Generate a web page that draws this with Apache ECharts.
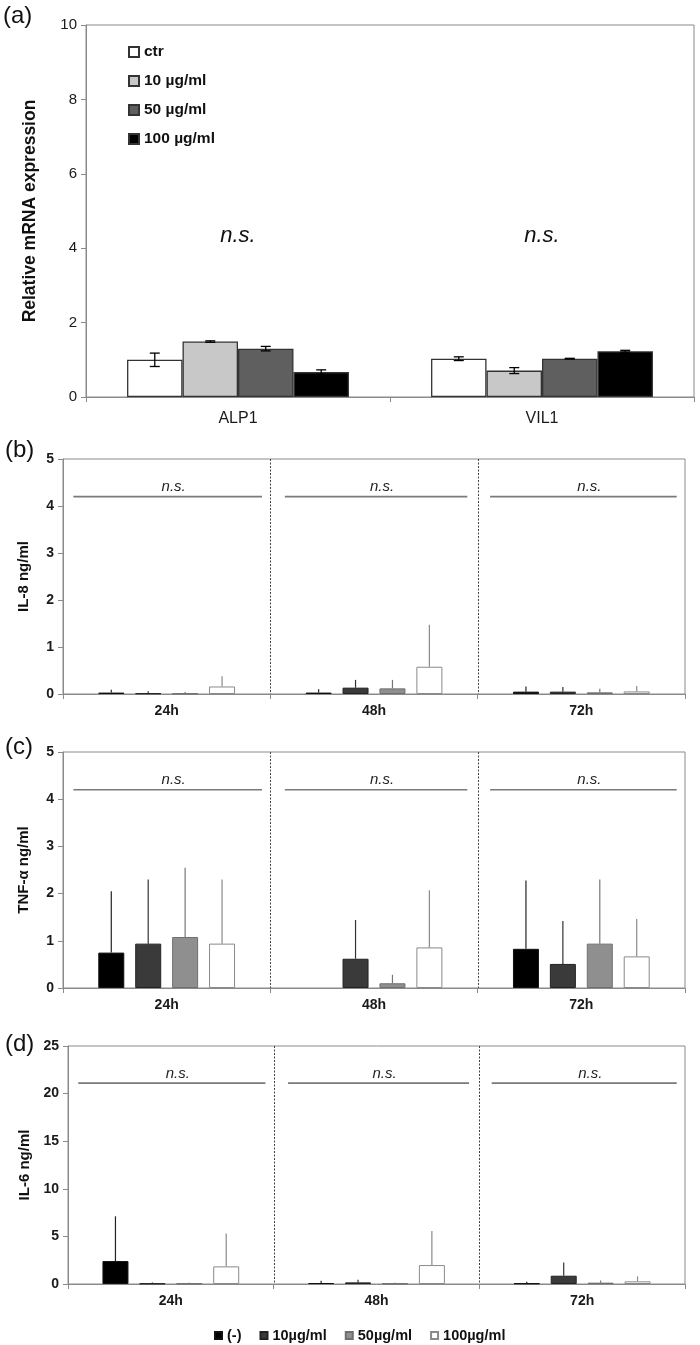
<!DOCTYPE html>
<html>
<head>
<meta charset="utf-8">
<script src="https://cdn.jsdelivr.net/npm/echarts@6/dist/echarts.min.js"></script>
<style>
html,body{margin:0;padding:0;background:#fff;}
#chart{width:700px;height:1345px;}
</style>
</head>
<body>
<div id="chart"></div>
<script>
// ---------- DATA ----------
const genes = ['ALP1', 'VIL1'];
const groupsA = ['ctr', '10 µg/ml', '50 µg/ml', '100 µg/ml'];
const meanA = [[1.00, 1.03], [1.49, 0.71], [1.30, 1.03], [0.67, 1.23]];
const errA  = [[0.18, 0.05], [0.02, 0.08], [0.06, 0.01], [0.06, 0.025]];
const nsA = [[0, 4.32], [1, 4.32]];

const times = ['24h', '48h', '72h'];
const groupsB = ['(-)', '10µg/ml', '50µg/ml', '100µg/ml'];
// series-major: [group][time]
const il8Mean = [[0.03, 0.03, 0.05], [0.015, 0.135, 0.05], [0.01, 0.12, 0.035], [0.16, 0.58, 0.055]];
const il8Err  = [[0.06, 0.07, 0.11], [0.045, 0.165, 0.10], [0.03, 0.18, 0.075], [0.22, 0.895, 0.115]];
const tnfMean = [[0.75, 0, 0.83], [0.94, 0.62, 0.51], [1.08, 0.10, 0.94], [0.94, 0.86, 0.67]];
const tnfErr  = [[1.30, 0, 1.45], [1.36, 0.82, 0.91], [1.47, 0.18, 1.36], [1.36, 1.21, 0.79]];
const il6Mean = [[2.41, 0.10, 0.07], [0.05, 0.17, 0.87], [0.05, 0.05, 0.14], [1.85, 1.99, 0.28]];
const il6Err  = [[4.70, 0.25, 0.17], [0.12, 0.28, 1.40], [0.09, 0.09, 0.24], [3.46, 3.57, 0.52]];
const nsSpans = [[0.05, 0.96], [1.07, 1.95], [2.06, 2.96]];
const nsLevel = {il8: 4.2, tnf: 4.2, il6: 21.1};
const dividers = [1, 2];

// ---------- STYLE ----------
const FONT = "'Liberation Sans', Arial, Helvetica, sans-serif";
const colorsA = ['#ffffff', '#c8c8c8', '#5f5f5f', '#000000'];
const colorsB = ['#000000', '#3a3a3a', '#8f8f8f', '#ffffff'];
const bordersB = ['#111111', '#222222', '#6f6f6f', '#8a8a8a'];
const errColB = ['#222222', '#333333', '#777777', '#8a8a8a'];
const BW = 26, GAP = 0.42;

const chart = echarts.init(document.getElementById('chart'), null, {renderer: 'canvas'});

const grids = [
  {left: 86, top: 25, width: 608, height: 372},
  {left: 63, top: 459, width: 622, height: 235},
  {left: 63, top: 752, width: 622, height: 236},
  {left: 68, top: 1046, width: 617, height: 238}
].map(g => Object.assign({show: true, borderColor: '#8a8a8a', borderWidth: 1, backgroundColor: 'transparent', containLabel: false}, g));

function catAxis(gi, data, bold, fs, margin) {
  return {
    type: 'category', gridIndex: gi, data: data,
    axisLine: {lineStyle: {color: '#8a8a8a', width: 1}},
    axisTick: {show: true, length: 5, lineStyle: {color: '#8a8a8a'}},
    axisLabel: {fontFamily: FONT, fontSize: fs, fontWeight: bold ? 'bold' : 'normal', color: '#1a1a1a', margin: margin},
    splitLine: {show: false}
  };
}
function valXAxis(gi) {
  return {type: 'value', gridIndex: gi, min: 0, max: 3, show: false, splitLine: {show: false}};
}
function yAxis(gi, max, interval, name, bold, fs, nameGap, nameFs) {
  return {
    type: 'value', gridIndex: gi, min: 0, max: max, interval: interval,
    name: name, nameLocation: 'middle', nameGap: nameGap,
    nameTextStyle: {fontFamily: FONT, fontWeight: 'bold', fontSize: nameFs, color: '#111'},
    axisLine: {show: true, lineStyle: {color: '#8a8a8a', width: 1}},
    axisTick: {show: true, length: 5, lineStyle: {color: '#8a8a8a'}},
    axisLabel: {fontFamily: FONT, fontSize: fs, fontWeight: bold ? 'bold' : 'normal', color: '#1a1a1a', margin: 9},
    splitLine: {show: false}
  };
}

const xAxes = [
  catAxis(0, genes, false, 16, 14),
  catAxis(1, times, true, 14, 10), valXAxis(1),
  catAxis(2, times, true, 14, 10), valXAxis(2),
  catAxis(3, times, true, 14, 10), valXAxis(3)
];
const yAxes = [
  yAxis(0, 10, 2, 'Relative mRNA expression', false, 15, 47, 17.5),
  yAxis(1, 5, 1, 'IL-8 ng/ml', true, 14, 32, 15),
  yAxis(2, 5, 1, 'TNF-α ng/ml', true, 14, 32, 15),
  yAxis(3, 25, 5, 'IL-6 ng/ml', true, 14, 36, 15)
];

const series = [];

// Panel (a) bars
groupsA.forEach((name, s) => {
  series.push({
    type: 'bar', name: name, xAxisIndex: 0, yAxisIndex: 0,
    data: meanA[s], barGap: '0%', barCategoryGap: '27%',
    itemStyle: {color: colorsA[s], borderColor: '#333', borderWidth: 1.3},
    z: 2
  });
});
// Panel (a) error bars
const errDataA = [];
groupsA.forEach((n, s) => genes.forEach((g, c) => errDataA.push([c, meanA[s][c], errA[s][c], s])));
series.push({
  type: 'custom', xAxisIndex: 0, yAxisIndex: 0, z: 5, silent: true,
  encode: {x: 0, y: 1},
  data: errDataA,
  renderItem: function (params, api) {
    const c = api.value(0), v = api.value(1), e = api.value(2), s = api.value(3);
    const band = api.size([1, 0])[0];
    const bw = band * 0.73 / 4;
    const x = api.coord([c, v])[0] + (s - 1.5) * bw;
    const yt = api.coord([c, v + e])[1];
    const yb = api.coord([c, v - e])[1];
    const cap = 5;
    const st = {stroke: '#000', lineWidth: 1.3};
    return {type: 'group', children: [
      {type: 'line', shape: {x1: x, y1: yt, x2: x, y2: yb}, style: st},
      {type: 'line', shape: {x1: x - cap, y1: yt, x2: x + cap, y2: yt}, style: st},
      {type: 'line', shape: {x1: x - cap, y1: yb, x2: x + cap, y2: yb}, style: st}
    ]};
  }
});
// Panel (a) n.s.
series.push({
  type: 'custom', xAxisIndex: 0, yAxisIndex: 0, z: 6, silent: true,
  encode: {x: 0, y: 1}, data: nsA,
  renderItem: function (params, api) {
    const p = api.coord([api.value(0), api.value(1)]);
    return {type: 'text', style: {text: 'n.s.', x: p[0], y: p[1], align: 'center', verticalAlign: 'middle',
      font: 'italic 22px ' + FONT, fill: '#111'}};
  }
});

// Panels (b)-(d)
const panels = [
  {mean: il8Mean, err: il8Err, ns: nsLevel.il8, cx: 1, vx: 2, y: 1},
  {mean: tnfMean, err: tnfErr, ns: nsLevel.tnf, cx: 3, vx: 4, y: 2},
  {mean: il6Mean, err: il6Err, ns: nsLevel.il6, cx: 5, vx: 6, y: 3}
];
panels.forEach(p => {
  groupsB.forEach((name, s) => {
    series.push({
      type: 'bar', name: name, xAxisIndex: p.cx, yAxisIndex: p.y,
      data: p.mean[s].map(v => v === 0 ? {value: v, itemStyle: {borderWidth: 0}} : v),
      barWidth: BW, barGap: (GAP * 100) + '%',
      itemStyle: {color: colorsB[s], borderColor: bordersB[s], borderWidth: 1},
      z: 2
    });
  });
  const ed = [];
  groupsB.forEach((n, s) => times.forEach((t, c) => ed.push([c, p.mean[s][c], p.err[s][c], s])));
  series.push({
    type: 'custom', xAxisIndex: p.cx, yAxisIndex: p.y, z: 1, silent: true,
    encode: {x: 0, y: 1}, data: ed,
    renderItem: function (params, api) {
      const c = api.value(0), v = api.value(1), e = api.value(2), s = api.value(3);
      if (!(e > 0)) return null;
      const pitch = BW * (1 + GAP);
      const x = api.coord([c, v])[0] + (s - 1.5) * pitch;
      const y0 = api.coord([c, v])[1];
      const y1 = api.coord([c, v + e])[1];
      return {type: 'line', shape: {x1: x, y1: y0, x2: x, y2: y1}, style: {stroke: errColB[s], lineWidth: 1.2}};
    }
  });
  // n.s. lines
  series.push({
    type: 'custom', xAxisIndex: p.vx, yAxisIndex: p.y, z: 4, silent: true,
    encode: {x: [0, 1], y: 2},
    data: nsSpans.map(sp => [sp[0], sp[1], p.ns]),
    renderItem: function (params, api) {
      const a = api.coord([api.value(0), api.value(2)]);
      const b = api.coord([api.value(1), api.value(2)]);
      return {type: 'group', children: [
        {type: 'line', shape: {x1: a[0], y1: a[1], x2: b[0], y2: b[1]}, style: {stroke: '#7a7a7a', lineWidth: 1.6}},
        {type: 'text', style: {text: 'n.s.', x: (a[0] + b[0]) / 2 + 6, y: a[1] - 2, align: 'center', verticalAlign: 'bottom',
          font: 'italic 15px ' + FONT, fill: '#222'}}
      ]};
    }
  });
  // dotted dividers
  series.push({
    type: 'custom', xAxisIndex: p.vx, yAxisIndex: p.y, z: 3, silent: true,
    encode: {x: 0}, data: dividers.map(d => [d]),
    renderItem: function (params, api) {
      const cs = params.coordSys;
      const x = Math.round(api.coord([api.value(0), 0])[0]) + 0.5;
      return {type: 'line', shape: {x1: x, y1: cs.y, x2: x, y2: cs.y + cs.height},
        style: {stroke: '#444', lineWidth: 1, lineDash: [2, 1.5]}};
    }
  });
});

const option = {
  animation: false,
  backgroundColor: '#ffffff',
  textStyle: {fontFamily: FONT},
  grid: grids,
  xAxis: xAxes,
  yAxis: yAxes,
  legend: [
    {
      data: groupsA, orient: 'vertical', left: 123, top: 39, itemWidth: 10, itemHeight: 10, itemGap: 13,
      icon: 'rect', selectedMode: false,
      textStyle: {fontFamily: FONT, fontWeight: 'bold', fontSize: 15.5, color: '#111'}
    },
    {
      data: groupsB, orient: 'horizontal', left: 209, top: 1323, itemWidth: 7, itemHeight: 7, itemGap: 18,
      icon: 'rect', selectedMode: false,
      textStyle: {fontFamily: FONT, fontWeight: 'bold', fontSize: 14.5, color: '#111'}
    }
  ],
  graphic: [
    {type: 'text', left: 3, top: 4, style: {text: '(a)', font: '24px ' + FONT, fill: '#111'}},
    {type: 'text', left: 5, top: 438, style: {text: '(b)', font: '24px ' + FONT, fill: '#111'}},
    {type: 'text', left: 5, top: 735, style: {text: '(c)', font: '24px ' + FONT, fill: '#111'}},
    {type: 'text', left: 5, top: 1032, style: {text: '(d)', font: '24px ' + FONT, fill: '#111'}}
  ],
  series: series
};
chart.setOption(option);
</script>
</body>
</html>
